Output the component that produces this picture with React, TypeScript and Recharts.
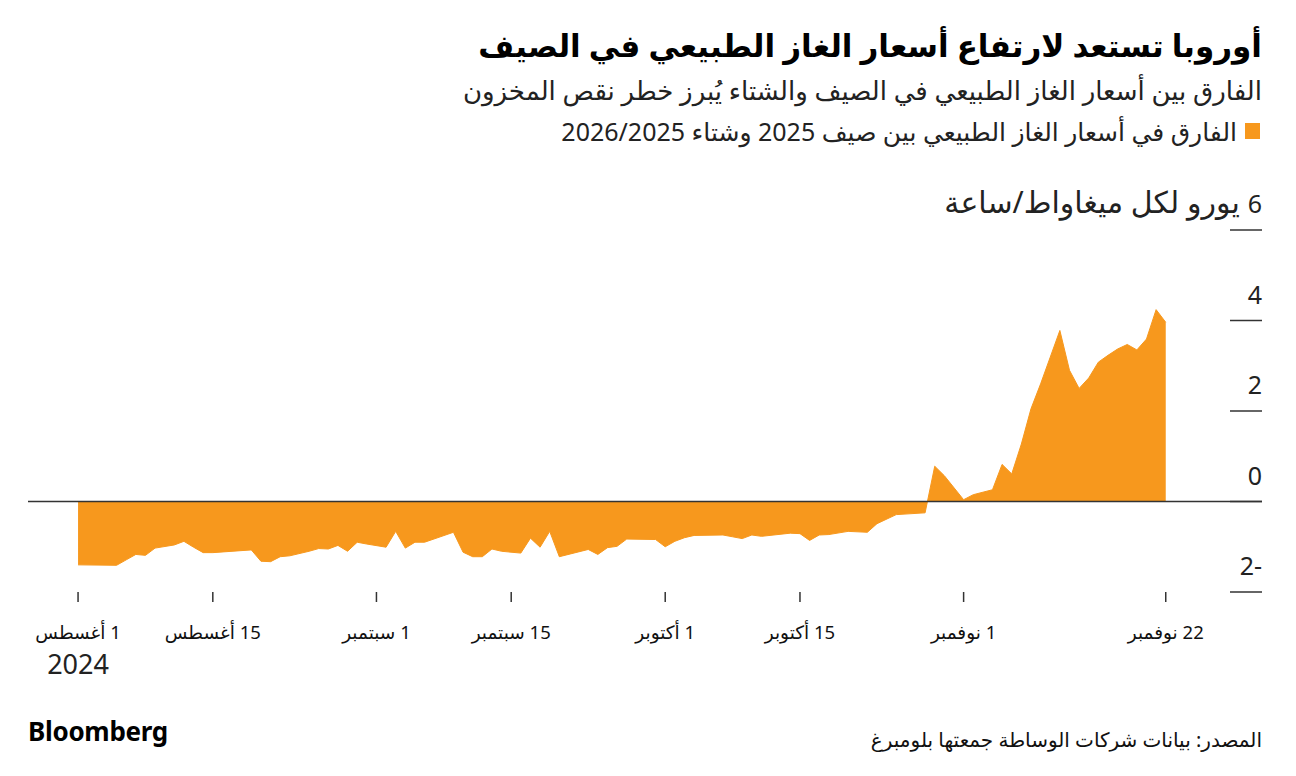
import { Area, AreaChart, ReferenceLine, XAxis, YAxis } from "recharts";

// days since 1 Aug 2024
const dayOffsets = [
  0, 4, 5, 6, 7, 8, 10, 11, 12, 13, 14, 18, 19, 20, 21, 22, 24, 25, 26, 27, 28,
  29, 30, 32, 33, 34, 35, 36, 39, 40, 41, 42, 43, 44, 46, 47, 48, 49, 50, 53,
  54, 55, 56, 57, 60, 61, 62, 63, 64, 67, 68, 69, 70, 71, 74, 75, 76, 77, 78,
  80, 82, 83, 85, 88, 89, 90, 92, 93, 95, 96, 97, 98, 99, 100, 101, 102, 103,
  104, 105, 106, 107, 108, 109, 110, 111, 112, 113,
];

// summer 2025 minus winter 2025/26, EUR/MWh
const spreadValues = [
  -1.4, -1.41, -1.29, -1.17, -1.19, -1.03, -0.96, -0.88, -1.01, -1.13, -1.13,
  -1.07, -1.32, -1.33, -1.22, -1.2, -1.1, -1.04, -1.05, -0.97, -1.1, -0.9,
  -0.94, -1.01, -0.66, -1.03, -0.9, -0.9, -0.68, -1.12, -1.22, -1.22, -1.05,
  -1.1, -1.14, -0.81, -1.01, -0.66, -1.22, -1.06, -1.17, -1.02, -0.99, -0.83,
  -0.84, -1.0, -0.88, -0.8, -0.75, -0.74, -0.78, -0.82, -0.74, -0.77, -0.7,
  -0.71, -0.86, -0.74, -0.73, -0.66, -0.68, -0.49, -0.29, -0.25, 0.78, 0.57,
  0.04, 0.15, 0.26, 0.82, 0.61, 1.27, 2.05, 2.6, 3.19, 3.78, 2.9, 2.5, 2.73,
  3.08, 3.23, 3.37, 3.47, 3.35, 3.59, 4.24, 3.96,
];

const xTickDays = [0, 14, 31, 45, 61, 75, 92, 113];
const xTickLabels = [
  "1 أغسطس",
  "15 أغسطس",
  "1 سبتمبر",
  "15 سبتمبر",
  "1 أكتوبر",
  "15 أكتوبر",
  "1 نوفمبر",
  "22 نوفمبر",
];
const yTicks = [-2, 0, 2, 4, 6];
const yUnit = "يورو لكل ميغاواط/ساعة";

const data = dayOffsets.map((day, i) => ({ day, value: spreadValues[i] }));

const FONT = "'Noto Sans', 'DejaVu Sans', sans-serif";
const ORANGE = "#F7981D";

function XTick({ x, y, payload }: any) {
  const i = xTickDays.indexOf(payload.value);
  return (
    <g>
      <text
        x={x}
        y={y + 37}
        direction="rtl"
        textAnchor="middle"
        fontSize={18.5}
        fill="#111"
        fontFamily={FONT}
      >
        {xTickLabels[i]}
      </text>
      {i === 0 && (
        <text
          x={x}
          y={y + 72}
          textAnchor="middle"
          fontSize={27}
          fill="#222"
          fontFamily={FONT}
        >
          2024
        </text>
      )}
    </g>
  );
}

function YTick({ x, y, payload }: any) {
  const isTop = payload.value === yTicks[yTicks.length - 1];
  return (
    <g>
      <line x1={x - 32} x2={x} y1={y} y2={y} stroke="#333" strokeWidth={1.5} />
      <text
        x={x}
        y={y - 17}
        direction="rtl"
        textAnchor="start"
        fontSize={25}
        fill="#222"
        fontFamily={FONT}
      >
        {payload.value}
        {isTop && <tspan fontSize={30}>{" " + yUnit}</tspan>}
      </text>
    </g>
  );
}

export default function App() {
  return (
    <div
      style={{
        position: "absolute",
        left: 0,
        top: 0,
        width: 1296,
        height: 776,
        background: "#fff",
        fontFamily: FONT,
        overflow: "hidden",
      }}
    >
      <div style={{ position: "absolute", left: 0, top: 0 }}>
        <AreaChart
          width={1296}
          height={776}
          data={data}
          margin={{ top: 230, right: 0, bottom: 0, left: 28 }}
        >
          <XAxis
            dataKey="day"
            type="number"
            domain={[-5.2, 123]}
            ticks={xTickDays}
            allowDataOverflow
            height={184}
            axisLine={false}
            tickLine={{ stroke: "#333", strokeWidth: 1.5 }}
            tickSize={10}
            tickMargin={0}
            tick={<XTick />}
            interval={0}
          />
          <YAxis
            type="number"
            orientation="right"
            domain={[-2, 6]}
            ticks={yTicks}
            width={34}
            axisLine={false}
            tickLine={false}
            tickSize={0}
            tickMargin={0}
            tick={<YTick />}
            interval={0}
          />
          <ReferenceLine y={0} stroke="#333" strokeWidth={1.5} />
          <Area
            dataKey="value"
            type="linear"
            baseValue={0}
            fill={ORANGE}
            fillOpacity={1}
            stroke={ORANGE}
            strokeWidth={1}
            dot={false}
            activeDot={false}
            isAnimationActive={false}
          />
        </AreaChart>
      </div>

      <div
        dir="rtl"
        style={{
          position: "absolute",
          right: 34,
          top: 25,
          lineHeight: "40px",
          fontSize: 31,
          fontWeight: 700,
          color: "#000",
          whiteSpace: "nowrap",
        }}
      >
        أوروبا تستعد لارتفاع أسعار الغاز الطبيعي في الصيف
      </div>
      <div
        dir="rtl"
        style={{
          position: "absolute",
          right: 34,
          top: 72,
          lineHeight: "36px",
          fontSize: 26,
          color: "#222",
          whiteSpace: "nowrap",
        }}
      >
        الفارق بين أسعار الغاز الطبيعي في الصيف والشتاء يُبرز خطر نقص المخزون
      </div>
      <div
        dir="rtl"
        style={{
          position: "absolute",
          right: 36,
          top: 116,
          lineHeight: "30px",
          fontSize: 25,
          color: "#222",
          whiteSpace: "nowrap",
          display: "flex",
          alignItems: "center",
        }}
      >
        <span
          style={{
            display: "inline-block",
            width: 15,
            height: 16,
            background: ORANGE,
            marginLeft: 8,
          }}
        />
        الفارق في أسعار الغاز الطبيعي بين صيف 2025 وشتاء 2026/2025
      </div>

      <div
        style={{
          position: "absolute",
          left: 28,
          top: 715,
          lineHeight: "32px",
          fontSize: 26,
          fontWeight: 700,
          color: "#000",
          letterSpacing: -0.3,
        }}
      >
        Bloomberg
      </div>
      <div
        dir="rtl"
        style={{
          position: "absolute",
          right: 34,
          top: 726,
          lineHeight: "28px",
          fontSize: 20,
          color: "#111",
          whiteSpace: "nowrap",
        }}
      >
        المصدر: بيانات شركات الوساطة جمعتها بلومبرغ
      </div>
    </div>
  );
}
